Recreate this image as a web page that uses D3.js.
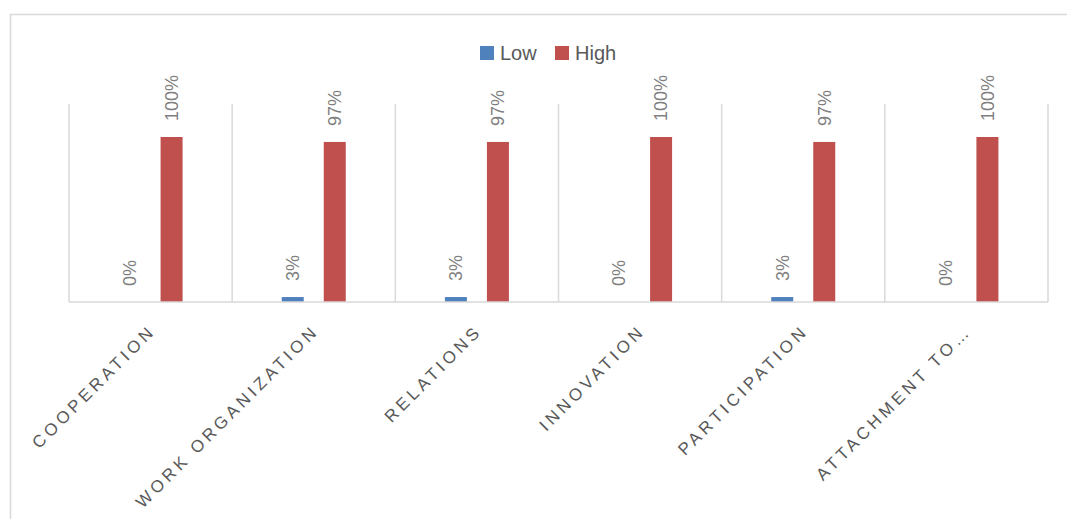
<!DOCTYPE html>
<html>
<head>
<meta charset="utf-8">
<script src="https://cdn.jsdelivr.net/npm/d3@7"></script>
<style>
  body { margin: 0; background: #fff; }
  svg { display: block; font-family: "Liberation Sans", Arial, sans-serif; }
</style>
</head>
<body>
<div id="chart"></div>
<script>
const categories = ["COOPERATION", "WORK ORGANIZATION", "RELATIONS", "INNOVATION", "PARTICIPATION", "ATTACHMENT TO…"];
const seriesNames = ["Low", "High"];
const lowValues = [0, 3, 3, 0, 3, 0];
const highValues = [100, 97, 97, 100, 97, 100];
const seriesColors = ["#4f81bd", "#c0504d"];

const width = 1067, height = 519;
const margin = { top: 104, right: 19, bottom: 217, left: 69 };

const svg = d3.select("#chart")
  .append("svg")
  .attr("width", width)
  .attr("height", height);

// chart frame
svg.append("rect")
  .attr("x", 10.5).attr("y", 14.5)
  .attr("width", 1070).attr("height", 520)
  .attr("fill", "none")
  .attr("stroke", "#d9d9d9")
  .attr("stroke-width", 1.5);

const x = d3.scaleBand()
  .domain(categories)
  .range([margin.left, width - margin.right])
  .padding(0);

const bw = x.bandwidth();
const xInner = d3.scaleBand()
  .domain(seriesNames)
  .range([bw / 2 - 32, bw / 2 + 32])
  .paddingInner(20 / 42)
  .paddingOuter(0);

const y = d3.scaleLinear()
  .domain([0, 120])
  .range([height - margin.bottom, margin.top]);

const table = categories.map((c, i) => ({
  cat: c,
  vals: [
    { s: "Low", v: lowValues[i], color: seriesColors[0] },
    { s: "High", v: highValues[i], color: seriesColors[1] },
  ],
}));

// vertical gridlines at category boundaries
const bounds = categories.map((c) => x(c)).concat([x(categories[categories.length - 1]) + bw]);
svg.append("g")
  .selectAll("line")
  .data(bounds)
  .join("line")
  .attr("x1", (d) => d).attr("x2", (d) => d)
  .attr("y1", y(120)).attr("y2", y(0))
  .attr("stroke", "#d9d9d9")
  .attr("stroke-width", 1.5);

// bars
const groups = svg.append("g")
  .selectAll("g")
  .data(table)
  .join("g")
  .attr("transform", (d) => `translate(${x(d.cat)},0)`);

groups.selectAll("rect")
  .data((d) => d.vals)
  .join("rect")
  .attr("x", (d) => xInner(d.s))
  .attr("width", xInner.bandwidth())
  .attr("y", (d) => y(d.v))
  .attr("height", (d) => y(0) - y(d.v))
  .attr("fill", (d) => d.color);

// data labels
groups.selectAll("text")
  .data((d) => d.vals)
  .join("text")
  .attr("transform", (d) => `translate(${xInner(d.s) + xInner.bandwidth() / 2},${y(d.v) - 16}) rotate(-90)`)
  .attr("text-anchor", "start")
  .attr("dy", "0.35em")
  .attr("font-size", 18)
  .attr("fill", "#7f7f7f")
  .text((d) => d.v + "%");

// baseline
svg.append("line")
  .attr("x1", x.range()[0]).attr("x2", x.range()[1])
  .attr("y1", y(0)).attr("y2", y(0))
  .attr("stroke", "#d9d9d9")
  .attr("stroke-width", 1.5);

// category labels
svg.append("g")
  .selectAll("text")
  .data(categories)
  .join("text")
  .attr("transform", (d) => `translate(${x(d) + bw / 2 + 6},${y(0) + 30}) rotate(-45)`)
  .attr("text-anchor", "end")
  .attr("font-size", 17)
  .attr("letter-spacing", "3.8px")
  .attr("fill", "#595959")
  .text((d) => d);

// legend
const legend = svg.append("g")
  .selectAll("g")
  .data(seriesNames)
  .join("g")
  .attr("transform", (d, i) => `translate(${480 + i * 75},46)`);

legend.append("rect")
  .attr("width", 14).attr("height", 14)
  .attr("fill", (d, i) => seriesColors[i]);

legend.append("text")
  .attr("x", 20).attr("y", 13.5)
  .attr("font-size", 20)
  .attr("fill", "#595959")
  .text((d) => d);
</script>
</body>
</html>
